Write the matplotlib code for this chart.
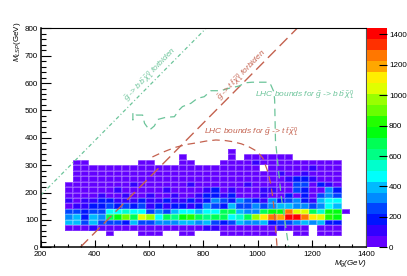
import colorsys
import numpy as np
import matplotlib.pyplot as plt
from matplotlib.colors import ListedColormap, BoundaryNorm

plt.rcParams['font.family'] = 'Liberation Sans'
plt.rcParams['mathtext.fontset'] = 'custom'
plt.rcParams['mathtext.rm'] = 'Liberation Sans'
plt.rcParams['mathtext.it'] = 'Liberation Sans:italic'
plt.rcParams['mathtext.bf'] = 'Liberation Sans:bold'

# histogram binning (GeV)
m_gluino_edges = np.arange(290, 1341, 30)
m_lsp_edges = np.arange(40, 361, 20)

# bin contents, top row (340-360) first, columns 290..1340
counts = [
    [0, 0, 0, 0, 0, 0, 0, 0, 0, 0, 0, 0, 0, 0, 0, 0, 0, 0, 0, 0, 40, 0, 0, 0, 0, 0, 0, 0, 0, 0, 0, 0, 0, 0, 0],
    [0, 0, 0, 0, 0, 0, 0, 0, 0, 0, 0, 0, 0, 0, 40, 0, 0, 0, 0, 0, 40, 0, 40, 40, 40, 40, 40, 40, 0, 0, 0, 0, 0, 0, 0],
    [0, 40, 40, 0, 0, 0, 0, 0, 0, 40, 40, 0, 0, 0, 40, 40, 0, 0, 0, 40, 40, 40, 40, 110, 40, 40, 40, 40, 40, 40, 40, 40, 40, 40, 0],
    [0, 40, 40, 40, 40, 40, 40, 40, 40, 40, 40, 40, 40, 40, 40, 40, 40, 40, 40, 40, 40, 40, 40, 40, 0, 40, 40, 40, 40, 40, 110, 40, 40, 40, 0],
    [0, 40, 40, 40, 40, 40, 40, 40, 40, 40, 40, 40, 40, 40, 40, 40, 40, 40, 40, 40, 40, 40, 40, 40, 40, 40, 110, 40, 40, 110, 40, 40, 40, 40, 0],
    [0, 40, 40, 40, 40, 40, 40, 40, 40, 40, 40, 40, 40, 40, 40, 40, 40, 40, 40, 40, 40, 40, 40, 40, 40, 40, 40, 110, 180, 180, 110, 40, 40, 40, 0],
    [40, 40, 40, 40, 40, 40, 40, 40, 110, 40, 40, 40, 40, 40, 40, 110, 40, 40, 40, 40, 40, 40, 110, 40, 40, 40, 40, 40, 250, 250, 40, 180, 110, 40, 0],
    [40, 40, 40, 40, 40, 40, 110, 40, 40, 40, 40, 40, 110, 40, 40, 40, 40, 110, 180, 40, 110, 40, 40, 40, 110, 110, 40, 40, 250, 180, 40, 40, 320, 180, 0],
    [40, 40, 40, 40, 110, 40, 40, 110, 40, 40, 110, 40, 40, 110, 40, 40, 110, 180, 180, 110, 180, 40, 40, 40, 110, 40, 40, 180, 40, 180, 40, 250, 320, 250, 0],
    [110, 40, 110, 110, 180, 180, 110, 110, 110, 180, 110, 110, 180, 110, 110, 180, 110, 180, 320, 250, 180, 320, 250, 180, 110, 320, 180, 250, 320, 180, 110, 400, 470, 470, 0],
    [40, 110, 110, 180, 180, 250, 180, 250, 180, 250, 110, 180, 110, 180, 180, 110, 180, 320, 250, 180, 400, 250, 250, 320, 250, 320, 400, 400, 320, 320, 250, 320, 470, 400, 0],
    [250, 250, 180, 250, 250, 470, 470, 540, 470, 470, 250, 320, 250, 400, 470, 470, 400, 470, 470, 680, 680, 400, 320, 320, 680, 760, 760, 1260, 1040, 1040, 680, 540, 760, 760, 40],
    [320, 400, 180, 400, 320, 680, 760, 900, 680, 1040, 970, 470, 680, 610, 760, 830, 680, 610, 680, 680, 470, 540, 680, 970, 1120, 1260, 1190, 1410, 1410, 1260, 1120, 1040, 830, 760, 0],
    [400, 400, 250, 400, 250, 250, 250, 180, 400, 250, 250, 320, 320, 320, 400, 400, 320, 400, 250, 180, 250, 400, 320, 320, 400, 180, 250, 250, 320, 400, 320, 400, 180, 180, 0],
    [40, 40, 40, 110, 40, 40, 40, 40, 40, 40, 40, 40, 40, 40, 40, 40, 40, 110, 110, 40, 40, 40, 40, 40, 40, 40, 110, 40, 40, 40, 0, 40, 40, 40, 0],
    [0, 0, 0, 0, 0, 40, 0, 0, 0, 40, 40, 40, 0, 0, 40, 40, 0, 0, 0, 40, 40, 40, 40, 40, 40, 40, 0, 0, 40, 40, 0, 40, 40, 40, 0],
]

# kinematic limits
bb_limit_x = [200, 810]
bb_limit_y = [190, 800]
tt_limit_x = [346, 1146]
tt_limit_y = [0, 800]

# LHC exclusion contours
lhc_bb_x = [540, 540, 552, 576, 583, 601, 619, 632, 662, 693, 711, 723, 754, 778, 803, 828, 864, 895,
            931, 956, 980, 1011, 1041, 1049, 1060, 1063, 1066, 1087, 1115]
lhc_bb_y = [490, 465, 483, 483, 453, 428, 443, 467, 475, 477, 502, 514, 526, 544, 550, 572, 572, 581,
            589, 601, 603, 603, 603, 593, 568, 538, 390, 187, 0]
lhc_tt_x = [612, 640, 670, 700, 740, 772, 810, 846, 880, 907, 940, 968, 990, 1005, 1020, 1029, 1040, 1048,
            1055, 1060, 1066, 1072]
lhc_tt_y = [330, 343, 355, 366, 376, 381, 388, 392, 390, 386, 378, 367, 355, 343, 325, 300, 270, 233,
            190, 148, 75, 0]

z_max = 1440
n_levels = 20

green = '#6cc49a'
brown = '#c4624f'

# ROOT "pretty" palette: hue from violet to red
pal = []
for j in range(n_levels):
    idx = int((j + 0.99) * 50 / n_levels)
    if idx >= 49:
        pal.append((1.0, 0.0, 0.0))
    else:
        hue = 280 - (idx + 1) * 280 / 50
        pal.append(colorsys.hls_to_rgb(hue / 360.0, 0.5, 1.0))
cmap = ListedColormap(pal)
norm = BoundaryNorm(np.linspace(0, z_max, n_levels + 1), n_levels)

z = np.array(counts[::-1], dtype=float)
z = np.ma.masked_where(z <= 0, z)

fig = plt.figure(figsize=(4.07, 2.76), dpi=100)
ax = fig.add_axes([0.1, 0.104, 0.7993, 0.7935])
cax = fig.add_axes([0.9017, 0.104, 0.0491, 0.7935])

mesh = ax.pcolormesh(m_gluino_edges, m_lsp_edges, z, cmap=cmap, norm=norm,
                     edgecolors=(1, 1, 1, 0.18), linewidth=0.3)

l1, = ax.plot(bb_limit_x, bb_limit_y, color=green, lw=0.9)
l1.set_dashes([3, 2, 0.8, 2])
l2, = ax.plot(tt_limit_x, tt_limit_y, color=brown, lw=1.0)
l2.set_dashes([8, 4])
l3, = ax.plot(lhc_bb_x, lhc_bb_y, color=green, lw=0.9)
l3.set_dashes([6, 4])
l4, = ax.plot(lhc_tt_x, lhc_tt_y, color=brown, lw=0.9)
l4.set_dashes([6, 4])

ax.text(624, 612, r'$\tilde{g}$ -> $b\,\bar{b}\,\tilde{\chi}^{0}_{1}$ forbiden', color=green,
        fontsize=6, style='italic', rotation=46, rotation_mode='anchor', ha='center', va='bottom')
ax.text(960, 612, r'$\tilde{g}$ -> $t\,\bar{t}\,\tilde{\chi}^{0}_{1}$ forbiden', color=brown,
        fontsize=6, style='italic', rotation=46, rotation_mode='anchor', ha='center', va='bottom')
ax.text(990, 556, r'LHC bounds for $\tilde{g}$ -> $b\,\bar{b}\,\tilde{\chi}^{0}_{1}$', color=green,
        fontsize=6, style='italic', ha='left', va='center')
ax.text(803, 420, r'LHC bounds for $\tilde{g}$ -> $t\,\bar{t}\,\tilde{\chi}^{0}_{1}$', color=brown,
        fontsize=6, style='italic', ha='left', va='center')

ax.set_xlim(200, 1400)
ax.set_ylim(0, 800)
ax.set_xticks(np.arange(200, 1401, 200))
ax.set_xticks(np.arange(200, 1401, 50), minor=True)
ax.set_yticks(np.arange(0, 801, 100))
ax.set_yticks(np.arange(0, 801, 20), minor=True)
ax.tick_params(axis='x', which='major', direction='in', length=4.75, width=0.8, labelsize=5.8, pad=2.5)
ax.tick_params(axis='x', which='minor', direction='in', length=2.4, width=0.8)
ax.tick_params(axis='y', which='major', direction='in', length=7.0, width=0.8, labelsize=5.8, pad=1.8)
ax.tick_params(axis='y', which='minor', direction='in', length=3.5, width=0.8)
for s in ['left', 'bottom']:
    ax.spines[s].set_linewidth(1.1)
    ax.spines[s].set_color('black')
ax.spines['top'].set_linewidth(0.8)
ax.spines['right'].set_linewidth(0.8)
ax.spines['right'].set_color('#555555')

ax.text(-0.07, 1.03, r'$M_{LSP}$(GeV)', transform=ax.transAxes, rotation=90,
        ha='center', va='top', fontsize=5.8)
ax.text(1.004, -0.052, r'$M_{\tilde{g}}$(GeV)', transform=ax.transAxes,
        ha='right', va='top', fontsize=5.8, style='italic')

cb = fig.colorbar(mesh, cax=cax, ticks=np.arange(0, 1401, 200))
cb.outline.set_linewidth(0)
cax.tick_params(direction='in', length=6, width=0.8, labelsize=5.8, pad=1.5, color='black')
cax.minorticks_off()

fig.savefig('out.png', dpi=100)
